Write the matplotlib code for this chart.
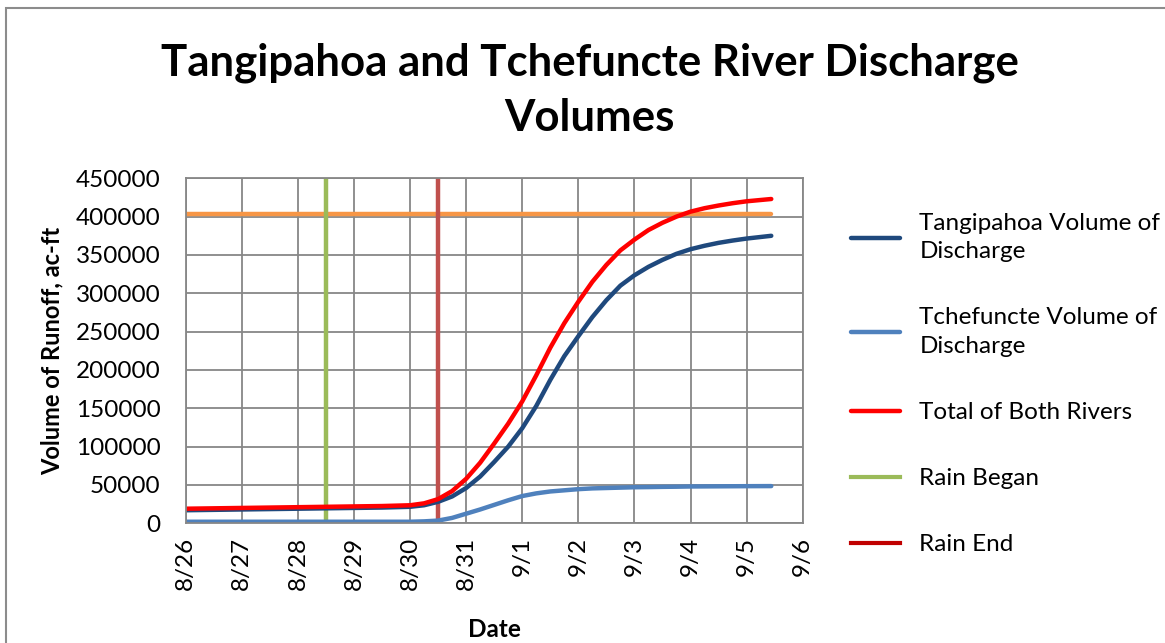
import matplotlib
matplotlib.use("Agg")
import matplotlib.pyplot as plt
from matplotlib.lines import Line2D
from matplotlib.patches import Rectangle

# days after 8/26 (0 = 8/26 00:00)
days = [0, 0.5, 1, 1.5, 2, 2.5, 3, 3.5, 4, 4.25, 4.5, 4.75, 5, 5.25, 5.5, 5.75,
        6, 6.25, 6.5, 6.75, 7, 7.25, 7.5, 7.75, 8, 8.25, 8.5, 8.75, 9, 9.25,
        9.5, 9.75, 10, 10.44]
tangipahoa = [17000, 17500, 18000, 18500, 19000, 19500, 20000, 20500, 21500, 23500,
              28000, 35000, 46000, 61000, 80000, 100000, 124000, 153000, 187000, 218000,
              244000, 269000, 291000, 310000, 323500, 334500, 343600, 351500, 357500, 362000,
              365800, 368800, 371400, 375000]
tchefuncte = [2000, 2000, 2000, 2000, 2000, 2000, 2000, 2000, 2000, 2500,
              3500, 7000, 12500, 18000, 24000, 30000, 35500, 39000, 41500, 43000,
              44500, 45500, 46000, 46500, 47000, 47200, 47500, 47700, 48000, 48100,
              48200, 48300, 48400, 48500]
total = [19000, 19500, 20000, 20500, 21000, 21500, 22000, 22500, 23500, 26000,
         31500, 42000, 58000, 79000, 104000, 130000, 159000, 193000, 229000, 261000,
         289000, 315000, 337000, 356000, 370000, 382500, 392000, 400000, 406500, 411000,
         414500, 417500, 420000, 423000]
rain_began = 2.5
rain_end = 4.5
threshold = 403000
threshold_end = 10.44

tick_labels = ["8/26", "8/27", "8/28", "8/29", "8/30", "8/31",
               "9/1", "9/2", "9/3", "9/4", "9/5", "9/6"]

plt.rcParams['font.family'] = ['Lato', 'DejaVu Sans']

fig = plt.figure(figsize=(11.65, 6.43), dpi=100)
ax = fig.add_axes([0.1594, 0.1862, 0.5296, 0.5365])

lw = 3.2
ax.plot([0, threshold_end], [threshold, threshold], color="#F79646", linewidth=lw,
        solid_capstyle="round")
ax.axvline(rain_began, color="#9BBB59", linewidth=lw)
ax.axvline(rain_end, color="#C0504D", linewidth=lw)
l_tang, = ax.plot(days, tangipahoa, color="#1F497D", linewidth=lw, solid_capstyle="round")
l_tche, = ax.plot(days, tchefuncte, color="#4F81BD", linewidth=lw, solid_capstyle="round")
l_tot, = ax.plot(days, total, color="#FF0000", linewidth=lw, solid_capstyle="round")

ax.set_xlim(0, 11)
ax.set_ylim(0, 450000)
ax.set_xticks(range(12))
ax.set_xticklabels(tick_labels, rotation=90, fontsize=17.5)
ax.set_yticks(range(0, 450001, 50000))
ax.set_yticklabels([str(v) for v in range(0, 450001, 50000)], fontsize=17.5)
ax.tick_params(axis="both", length=0)
ax.tick_params(axis="x", pad=10)
ax.tick_params(axis="y", pad=18)
ax.grid(True, color="#878787", linewidth=1.3)
ax.set_axisbelow(True)
for s in ax.spines.values():
    s.set_color("#878787")
    s.set_linewidth(1.3)

ax.set_xlabel("Date", fontsize=17.5, fontweight="bold", labelpad=20)
ax.set_ylabel("Volume of Runoff, ac-ft", fontsize=17, fontweight="bold", labelpad=9)

fig.text(0.506, 0.86, "Tangipahoa and Tchefuncte River Discharge\nVolumes",
         ha="center", va="center", fontsize=31.5, fontweight="bold", linespacing=1.45)

handles = [l_tang, l_tche, l_tot,
           Line2D([], [], color="#9BBB59", linewidth=3),
           Line2D([], [], color="#C00000", linewidth=3)]
labels = ["Tangipahoa Volume of\nDischarge", "Tchefuncte Volume of\nDischarge",
          "Total of Both Rivers", "Rain Began", "Rain End"]
leg = fig.legend(handles, labels, loc="upper left", bbox_to_anchor=(0.712, 0.703),
                 frameon=False, fontsize=17.5, labelspacing=1.85, handlelength=2.0,
                 handletextpad=0.8)
for t in leg.get_texts():
    t.set_linespacing(1.45)

fig.add_artist(Rectangle((0.005, -0.05), 1.2, 0.05 + 1 - 8 / 643, transform=fig.transFigure,
                         fill=False, edgecolor="#8C8C8C", linewidth=1.5))

fig.savefig("out.png", dpi=100)
